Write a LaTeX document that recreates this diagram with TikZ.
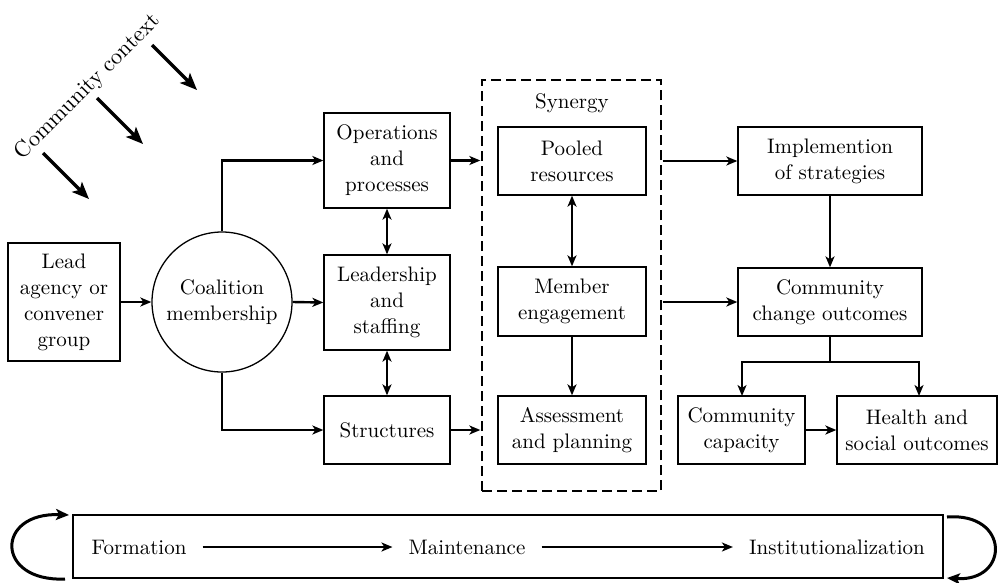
\documentclass[tikz,border=0pt]{standalone}
\usepackage{fontspec}
\setmainfont{lmroman10-regular.otf}
\usetikzlibrary{arrows.meta,calc}
\begin{document}
\begin{tikzpicture}[x=1pt,y=-1pt,
  every node/.style={font=\fontsize{21}{26}\selectfont},
  box/.style={draw,line width=1.3pt,inner sep=0pt,align=center},
  conn/.style={line width=2.4pt,-{Stealth[length=11pt,width=9pt,inset=3pt]}},
  dconn/.style={line width=2.4pt,{Stealth[length=11pt,width=9pt,inset=3pt]}-{Stealth[length=11pt,width=9pt,inset=3pt]}},
  plainline/.style={line width=2.4pt},
  ctxarrow/.style={line width=3.5pt,-{Stealth[length=17pt,width=14pt,inset=4pt]}},
  looparrow/.style={line width=3pt,-{Stealth[length=13pt,width=11pt,inset=3pt]}},
  phase/.style={inner xsep=16pt,inner ysep=2pt}
]
\useasboundingbox (0,0) rectangle (1000,582);

% community context
\node[rotate=45,font=\fontsize{22.5}{26}\selectfont] (ctx) at (88,87) {Community context};
\coordinate (c1s) at (152,45);  \coordinate (c1e) at (197,90);
\coordinate (c2s) at (97,98);   \coordinate (c2e) at (143,144);
\coordinate (c3s) at (43,153);  \coordinate (c3e) at (89,199);
\draw[ctxarrow] (c1s) -- (c1e);
\draw[ctxarrow] (c2s) -- (c2e);
\draw[ctxarrow] (c3s) -- (c3e);

% left part
\node[box,minimum width=112pt,minimum height=118pt] (lead) at (64,302) {Lead\\agency or\\convener\\group};
\node[draw,circle,line width=1.3pt,minimum size=140pt,inner sep=0pt,align=center] (coal) at (222,302) {Coalition\\membership};

\node[box,minimum width=126pt,minimum height=95pt] (ops) at (387,160.5) {Operations\\and\\processes};
\node[box,minimum width=126pt,minimum height=95pt] (ldr) at (387,302.5) {Leadership\\and\\staffing};
\node[box,minimum width=126pt,minimum height=68pt] (str) at (387,430) {Structures};

% synergy
\node[draw,line width=1.3pt,dash pattern=on 10pt off 5pt,minimum width=179pt,minimum height=411pt,inner sep=0pt] (syn) at (571.5,285.5) {};
\node (synlabel) at (572,103) {Synergy};
\node[box,minimum width=148pt,minimum height=68pt] (pool) at (572,161) {Pooled\\resources};
\node[box,minimum width=148pt,minimum height=69pt] (mem) at (572,301.5) {Member\\engagement};
\node[box,minimum width=148pt,minimum height=68pt] (ass) at (572,430) {Assessment\\and planning};

% right part
\node[box,minimum width=184pt,minimum height=68pt] (impl) at (830,161) {Implemention\\of strategies};
\node[box,minimum width=184pt,minimum height=68pt] (chg) at (830,302) {Community\\change outcomes};
\node[box,minimum width=127pt,minimum height=68pt] (cap) at (741.5,430) {Community\\capacity};
\node[box,minimum width=160pt,minimum height=68pt] (hlth) at (917,430) {Health and\\social outcomes};

% connectors
\draw[conn] (lead.east) -- (coal.west);
\draw[conn] (coal.north) |- (ops.west);
\draw[conn] (coal.east) -- (ldr.west);
\draw[conn] (coal.south) |- (str.west);
\draw[dconn] (ops.south) -- (ldr.north);
\draw[dconn] (ldr.south) -- (str.north);
\draw[conn] (ops.east) -- ($(ops.east -| syn.west)+(-1,0)$);
\draw[conn] (str.east) -- ($(str.east -| syn.west)+(-1,0)$);
\draw[dconn] (pool.south) -- (mem.north);
\draw[conn] (mem.south) -- (ass.north);
\draw[conn] ($(impl.west -| syn.east)+(1,0)$) -- (impl.west);
\draw[conn] ($(chg.west -| syn.east)+(1,0)$) -- (chg.west);
\draw[conn] (impl.south) -- (chg.north);
\coordinate (split) at (830,362);
\draw[plainline] (chg.south) -- (split);
\draw[conn] (split) -| (742,396);
\draw[conn] (split) -| (919,396);
\draw[conn] (cap.east) -- (hlth.west);

% bottom bar
\node[draw,line width=1.3pt,minimum width=870pt,minimum height=63pt,inner sep=0pt] (bar) at (508,546.5) {};
\node[phase] (form) at (139,547) {Formation};
\node[phase] (maint) at (467,547) {Maintenance};
\node[phase] (inst) at (837,547) {Institutionalization};
\draw[conn,line width=2pt] (form.east) -- (maint.west);
\draw[conn,line width=2pt] (maint.east) -- (inst.west);

\coordinate (lb) at (65,579);
\coordinate (lt) at (69,515);
\coordinate (rt) at (947,517);
\coordinate (rb) at (947,578);
\draw[looparrow] (lb) .. controls (-5,582) and (-5,512) .. (lt);
\draw[looparrow] (rt) .. controls (1010,512) and (1010,582) .. (rb);
\end{tikzpicture}
\end{document}
